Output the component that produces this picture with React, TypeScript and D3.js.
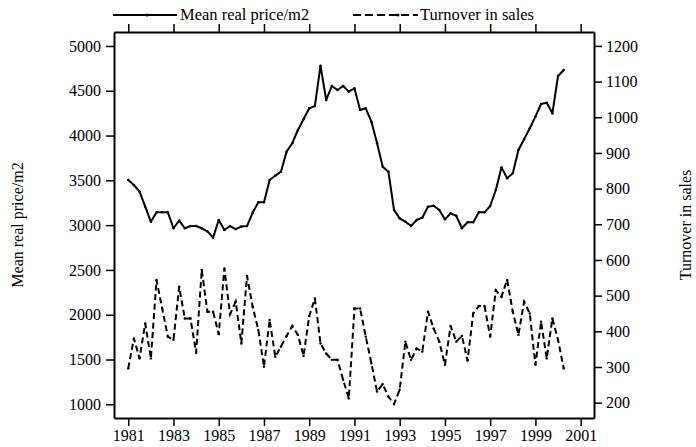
import React, { useRef, useEffect } from 'react';
import * as d3 from 'd3';

// quarterly observations, 1981 Q1 .. 2000 Q2
const startYear = 1981;
const price = [
  3504, 3448, 3373, 3206, 3038, 3143, 3143, 3143, 2965, 3050, 2965, 2990, 2990, 2965, 2930, 2860,
  3057, 2946, 2990, 2955, 2985, 2990, 3139, 3255, 3255, 3504, 3552, 3597, 3820, 3914, 4062, 4181,
  4304, 4330, 4780, 4397, 4553, 4509, 4553, 4490, 4528, 4285, 4304, 4155, 3914, 3652, 3597, 3169,
  3076, 3039, 2990, 3057, 3083, 3206, 3217, 3169, 3065, 3132, 3105, 2965, 3032, 3032, 3143, 3143,
  3214, 3392, 3645, 3523, 3579, 3839, 3958, 4081, 4211, 4352, 4367, 4248, 4665, 4732,
];
const turnover = [
  296, 380, 324, 422, 324, 544, 464, 385, 376, 525, 436, 436, 340, 572, 455, 455,
  392, 576, 448, 483, 366, 555, 469, 404, 301, 432, 329, 357, 387, 415, 390, 331,
  443, 492, 366, 338, 320, 320, 264, 212, 464, 464, 385, 310, 231, 252, 217, 196,
  236, 371, 320, 352, 343, 455, 408, 371, 306, 415, 371, 387, 318, 450, 471, 471,
  385, 515, 497, 544, 455, 390, 483, 450, 306, 427, 324, 436, 376, 296,
];
const yearTicks = d3.range(1981, 2002, 2);
const priceTicks = d3.range(1000, 5001, 500);
const turnoverTicks = d3.range(200, 1201, 100);
const priceLabel = 'Mean real price/m2';
const turnoverLabel = 'Turnover in sales';

function DualChart() {
  const svgRef = useRef<SVGSVGElement>(null);

  useEffect(() => {
    const width = 696;
    const height = 447;
    const left = 114, right = 594, top = 32, bottom = 418;
    const font = '"Liberation Serif", "Times New Roman", serif';

    const svg = d3.select(svgRef.current);
    svg.selectAll('*').remove();
    svg.attr('width', width).attr('height', height)
      .attr('viewBox', [0, 0, width, height].join(' '))
      .style('font-family', font);

    const x = d3.scaleLinear().domain([1980.37, 2001.59]).range([left, right]);
    const yL = d3.scaleLinear().domain([847, 5156]).range([bottom, top]);
    const yR = d3.scaleLinear().domain([157, 1239]).range([bottom, top]);
    const tAt = (i: number) => startYear + i * 0.25;

    const styleAxis = (g: any) => {
      g.select('.domain').attr('stroke-width', 2);
      g.selectAll('.tick line').attr('stroke-width', 1.5);
      g.selectAll('.tick text').attr('font-size', 16).attr('font-family', font).attr('fill', '#000');
    };

    svg.append('g').attr('transform', `translate(0,${bottom})`)
      .call(d3.axisBottom(x).tickValues(yearTicks).tickFormat(d3.format('d')).tickSize(8).tickSizeOuter(0).tickPadding(4))
      .call(styleAxis);
    svg.append('g').attr('transform', `translate(0,${top})`)
      .call(d3.axisTop(x).tickValues(yearTicks).tickFormat(() => '').tickSize(8).tickSizeOuter(0))
      .call(styleAxis);
    svg.append('g').attr('transform', `translate(${left},0)`)
      .call(d3.axisLeft(yL).tickValues(priceTicks).tickFormat(d3.format('d')).tickSize(8).tickSizeOuter(0).tickPadding(5))
      .call(styleAxis);
    svg.append('g').attr('transform', `translate(${right},0)`)
      .call(d3.axisRight(yR).tickValues(turnoverTicks).tickFormat(d3.format('d')).tickSize(8).tickSizeOuter(0).tickPadding(4))
      .call(styleAxis);

    // axis titles
    svg.append('text')
      .attr('transform', `translate(23,${(top + bottom) / 2}) rotate(-90)`)
      .attr('text-anchor', 'middle').attr('font-size', 16).text(priceLabel);
    svg.append('text')
      .attr('transform', `translate(691,${(top + bottom) / 2}) rotate(-90)`)
      .attr('text-anchor', 'middle').attr('font-size', 16).text(turnoverLabel);

    const priceLine = d3.line<number>().x((_, i) => x(tAt(i))).y(d => yL(d));
    const turnLine = d3.line<number>().x((_, i) => x(tAt(i))).y(d => yR(d));

    svg.append('path').datum(price)
      .attr('d', priceLine).attr('fill', 'none').attr('stroke', '#000')
      .attr('stroke-width', 2).attr('stroke-linejoin', 'round');
    svg.append('path').datum(turnover)
      .attr('d', turnLine).attr('fill', 'none').attr('stroke', '#000')
      .attr('stroke-width', 2).attr('stroke-dasharray', '6,3.5');

    // small point markers
    svg.append('g').selectAll('circle').data(price).join('circle')
      .attr('cx', (_, i) => x(tAt(i))).attr('cy', d => yL(d)).attr('r', 1.2);
    svg.append('g').selectAll('circle').data(turnover).join('circle')
      .attr('cx', (_, i) => x(tAt(i))).attr('cy', d => yR(d)).attr('r', 1.2);

    // legend
    const legend = svg.append('g');
    legend.append('line').attr('x1', 113).attr('x2', 177).attr('y1', 15).attr('y2', 15)
      .attr('stroke', '#000').attr('stroke-width', 2);
    legend.append('circle').attr('cx', 147).attr('cy', 15).attr('r', 1.5);
    legend.append('text').attr('x', 180).attr('y', 20).attr('font-size', 16.5).text(priceLabel);
    legend.append('line').attr('x1', 353).attr('x2', 418).attr('y1', 15).attr('y2', 15)
      .attr('stroke', '#000').attr('stroke-width', 2).attr('stroke-dasharray', '8,4');
    legend.append('circle').attr('cx', 398).attr('cy', 15).attr('r', 1.5);
    legend.append('text').attr('x', 420).attr('y', 20).attr('font-size', 16.5).text(turnoverLabel);
  }, []);

  return <svg ref={svgRef} style={{ display: 'block' }} />;
}

export default function App() {
  return (
    <div style={{ position: 'absolute', left: 0, top: 0, background: '#fff' }}>
      <DualChart />
    </div>
  );
}
